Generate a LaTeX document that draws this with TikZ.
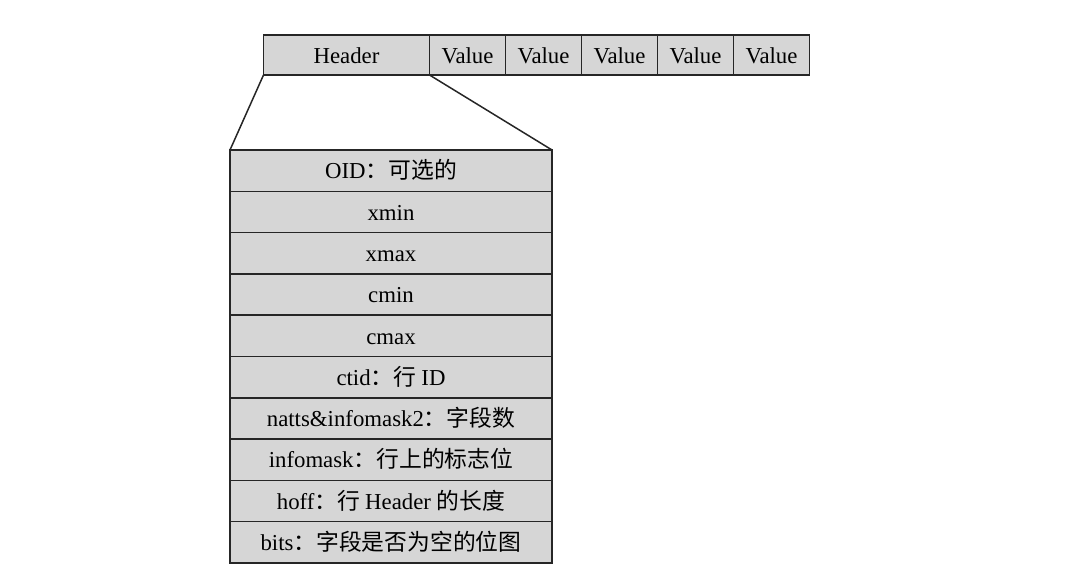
\documentclass[tikz,border=0pt]{standalone}
\usepackage{fontspec}
\setmainfont{Liberation Serif}
\newfontfamily\cjk{Noto Sans CJK SC}
\newcommand{\zh}[1]{{\cjk #1}}
\usetikzlibrary{positioning}

\begin{document}
\begin{tikzpicture}[x=0.5pt, y=-0.5pt,
  cell/.style={draw=black!85, fill=black!16, line width=0.75pt, outer sep=0pt, inner sep=0pt,
    font=\fontsize{11.4}{13}\selectfont, text height=10pt, text depth=1.8pt, minimum height=20pt},
  field/.style={cell, minimum width=161pt, minimum height=20.65pt}]
\useasboundingbox (0,0) rectangle (1076,576);

% Tuple row
\node[cell, minimum width=83pt] (hdr) at (346.5,55) {Header};
\node[cell, minimum width=38pt, right=0pt of hdr] (v1) {Value};
\foreach \i [remember=\i as \k (initially 1)] in {2,...,5}
  \node[cell, minimum width=38pt, right=0pt of v\k] (v\i) {Value};

% Header fields
\node[field, anchor=north] (f1) at (391,150) {OID\zh{：可选的}};
\foreach \t [count=\i from 2, remember=\i as \k (initially 1)] in
  {xmin, xmax, cmin, cmax, ctid\zh{：行 }ID, natts\&infomask2\zh{：字段数},
   infomask\zh{：行上的标志位}, hoff\zh{：行 }Header \zh{的长度}, bits\zh{：字段是否为空的位图}}
  \node[field, below=0pt of f\k] (f\i) {\t};

% Zoom lines
\draw[black!85, line width=0.75pt] (hdr.south west) -- (f1.north west);
\draw[black!85, line width=0.75pt] (hdr.south east) -- (f1.north east);
\end{tikzpicture}
\end{document}
